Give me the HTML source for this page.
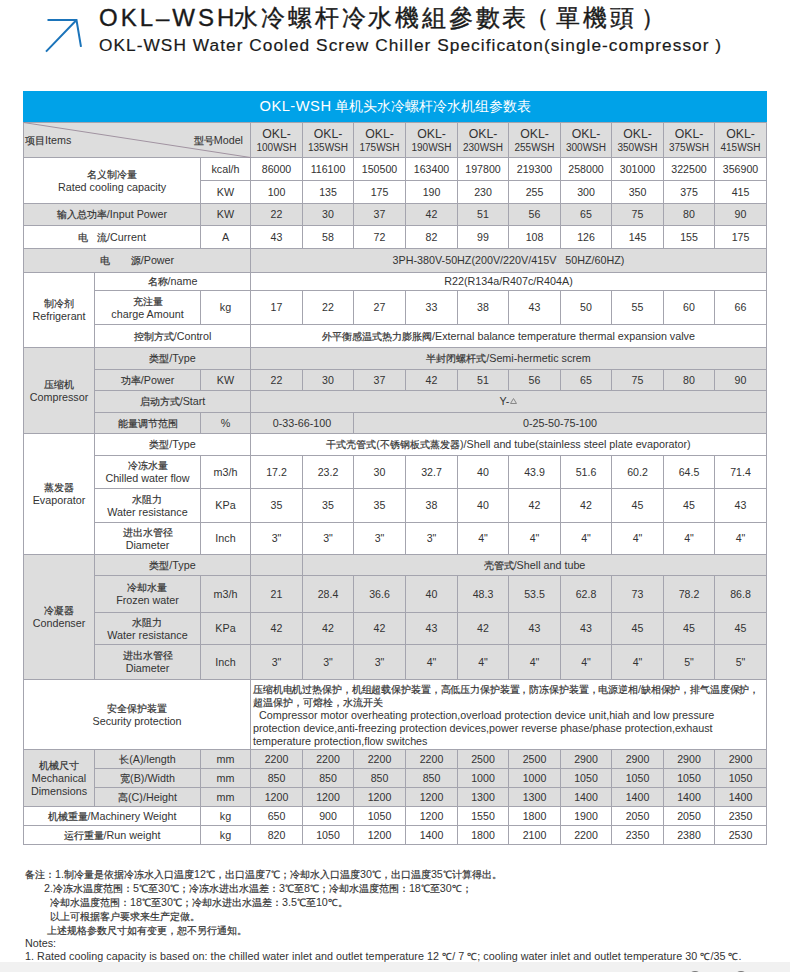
<!DOCTYPE html>
<html><head><meta charset="utf-8">
<style>
html,body{margin:0;padding:0;}
body{width:790px;height:972px;position:relative;overflow:hidden;background:#fff;font-family:"Liberation Sans",sans-serif;color:#333333;}
.c{position:absolute;box-sizing:border-box;border:1px solid #a4a4ae;display:flex;align-items:center;justify-content:center;text-align:center;font-size:10.75px;line-height:13px;white-space:nowrap;}
.k{font-size:9.8px;-webkit-text-stroke:0.2px #333333;}
.d{font-size:10.6px;}
.hd{line-height:13px;padding-top:1px;}
.okl{font-size:12.3px;display:block;}
.mdl{font-size:10px;display:block;}
.tri{font-size:7px;}
.secc{align-items:flex-start;justify-content:flex-start;}
.sec{position:absolute;left:2px;top:3px;text-align:left;line-height:13px;}
.l1{letter-spacing:-0.13px;}
.title1{position:absolute;left:99px;top:3px;font-size:24px;line-height:30px;color:#1a1a1a;letter-spacing:3px;white-space:nowrap;-webkit-text-stroke:0.35px #1a1a1a;}
.tk{letter-spacing:2.8px;margin-left:-3px;}
.title2{position:absolute;left:99px;top:34px;font-size:17.3px;line-height:22px;color:#1a1a1a;letter-spacing:1.04px;white-space:nowrap;-webkit-text-stroke:0.2px #1a1a1a;}
.bar{position:absolute;left:23px;top:91px;width:744px;height:31px;background:#00a2e8;color:#fff;font-size:14.7px;line-height:31px;text-align:center;white-space:nowrap;letter-spacing:0.5px;}
.bk{font-size:14px;letter-spacing:0;margin-left:3px;}
.notes{position:absolute;font-size:10.75px;line-height:13px;white-space:nowrap;}
.band{position:absolute;left:0;top:962px;width:790px;height:10px;background:#f1f1f1;}
</style></head><body>
<svg style="position:absolute;left:0;top:0" width="100" height="60"><path d="M47.5 20 H76.5 L81 46.8 M76.5 20 L46 51.6" fill="none" stroke="#1b74ba" stroke-width="2"/></svg>
<div class="title1">OKL–WSH<span class="tk">水冷螺杆冷水機組參數表<span style="margin-left:-4px;margin-right:4px">（</span>單機頭<span style="margin-left:5px">）</span></span></div>
<div class="title2">OKL-WSH Water Cooled Screw Chiller Specificaton(single-compressor )</div>
<div class="bar">OKL-WSH<span class="bk">单机头水冷螺杆冷水机组参数表</span></div>
<div class="c " style="left:23px;top:122px;width:228px;height:36px;background:#dddddd;"><div></div></div>
<div class="c hd" style="left:250px;top:122px;width:53px;height:36px;background:#dddddd;"><div><span class="okl">OKL-</span><span class="mdl">100WSH</span></div></div>
<div class="c hd" style="left:302px;top:122px;width:52px;height:36px;background:#dddddd;"><div><span class="okl">OKL-</span><span class="mdl">135WSH</span></div></div>
<div class="c hd" style="left:353px;top:122px;width:53px;height:36px;background:#dddddd;"><div><span class="okl">OKL-</span><span class="mdl">175WSH</span></div></div>
<div class="c hd" style="left:405px;top:122px;width:53px;height:36px;background:#dddddd;"><div><span class="okl">OKL-</span><span class="mdl">190WSH</span></div></div>
<div class="c hd" style="left:457px;top:122px;width:52px;height:36px;background:#dddddd;"><div><span class="okl">OKL-</span><span class="mdl">230WSH</span></div></div>
<div class="c hd" style="left:508px;top:122px;width:53px;height:36px;background:#dddddd;"><div><span class="okl">OKL-</span><span class="mdl">255WSH</span></div></div>
<div class="c hd" style="left:560px;top:122px;width:52px;height:36px;background:#dddddd;"><div><span class="okl">OKL-</span><span class="mdl">300WSH</span></div></div>
<div class="c hd" style="left:611px;top:122px;width:53px;height:36px;background:#dddddd;"><div><span class="okl">OKL-</span><span class="mdl">350WSH</span></div></div>
<div class="c hd" style="left:663px;top:122px;width:52px;height:36px;background:#dddddd;"><div><span class="okl">OKL-</span><span class="mdl">375WSH</span></div></div>
<div class="c hd" style="left:714px;top:122px;width:53px;height:36px;background:#dddddd;"><div><span class="okl">OKL-</span><span class="mdl">415WSH</span></div></div>
<div class="c " style="left:23px;top:157px;width:178px;height:47px;background:#ffffff;"><div><span class="k">名义制冷量</span><br>Rated cooling capacity</div></div>
<div class="c " style="left:200px;top:157px;width:51px;height:24px;background:#ffffff;"><div>kcal/h</div></div>
<div class="c " style="left:200px;top:180px;width:51px;height:24px;background:#ffffff;"><div>KW</div></div>
<div class="c d" style="left:250px;top:157px;width:53px;height:24px;background:#ffffff;"><div>86000</div></div>
<div class="c d" style="left:302px;top:157px;width:52px;height:24px;background:#ffffff;"><div>116100</div></div>
<div class="c d" style="left:353px;top:157px;width:53px;height:24px;background:#ffffff;"><div>150500</div></div>
<div class="c d" style="left:405px;top:157px;width:53px;height:24px;background:#ffffff;"><div>163400</div></div>
<div class="c d" style="left:457px;top:157px;width:52px;height:24px;background:#ffffff;"><div>197800</div></div>
<div class="c d" style="left:508px;top:157px;width:53px;height:24px;background:#ffffff;"><div>219300</div></div>
<div class="c d" style="left:560px;top:157px;width:52px;height:24px;background:#ffffff;"><div>258000</div></div>
<div class="c d" style="left:611px;top:157px;width:53px;height:24px;background:#ffffff;"><div>301000</div></div>
<div class="c d" style="left:663px;top:157px;width:52px;height:24px;background:#ffffff;"><div>322500</div></div>
<div class="c d" style="left:714px;top:157px;width:53px;height:24px;background:#ffffff;"><div>356900</div></div>
<div class="c d" style="left:250px;top:180px;width:53px;height:24px;background:#ffffff;"><div>100</div></div>
<div class="c d" style="left:302px;top:180px;width:52px;height:24px;background:#ffffff;"><div>135</div></div>
<div class="c d" style="left:353px;top:180px;width:53px;height:24px;background:#ffffff;"><div>175</div></div>
<div class="c d" style="left:405px;top:180px;width:53px;height:24px;background:#ffffff;"><div>190</div></div>
<div class="c d" style="left:457px;top:180px;width:52px;height:24px;background:#ffffff;"><div>230</div></div>
<div class="c d" style="left:508px;top:180px;width:53px;height:24px;background:#ffffff;"><div>255</div></div>
<div class="c d" style="left:560px;top:180px;width:52px;height:24px;background:#ffffff;"><div>300</div></div>
<div class="c d" style="left:611px;top:180px;width:53px;height:24px;background:#ffffff;"><div>350</div></div>
<div class="c d" style="left:663px;top:180px;width:52px;height:24px;background:#ffffff;"><div>375</div></div>
<div class="c d" style="left:714px;top:180px;width:53px;height:24px;background:#ffffff;"><div>415</div></div>
<div class="c " style="left:23px;top:203px;width:178px;height:23px;background:#dddddd;"><div><span class="k">输入总功率</span>/Input Power</div></div>
<div class="c " style="left:200px;top:203px;width:51px;height:23px;background:#dddddd;"><div>KW</div></div>
<div class="c d" style="left:250px;top:203px;width:53px;height:23px;background:#dddddd;"><div>22</div></div>
<div class="c d" style="left:302px;top:203px;width:52px;height:23px;background:#dddddd;"><div>30</div></div>
<div class="c d" style="left:353px;top:203px;width:53px;height:23px;background:#dddddd;"><div>37</div></div>
<div class="c d" style="left:405px;top:203px;width:53px;height:23px;background:#dddddd;"><div>42</div></div>
<div class="c d" style="left:457px;top:203px;width:52px;height:23px;background:#dddddd;"><div>51</div></div>
<div class="c d" style="left:508px;top:203px;width:53px;height:23px;background:#dddddd;"><div>56</div></div>
<div class="c d" style="left:560px;top:203px;width:52px;height:23px;background:#dddddd;"><div>65</div></div>
<div class="c d" style="left:611px;top:203px;width:53px;height:23px;background:#dddddd;"><div>75</div></div>
<div class="c d" style="left:663px;top:203px;width:52px;height:23px;background:#dddddd;"><div>80</div></div>
<div class="c d" style="left:714px;top:203px;width:53px;height:23px;background:#dddddd;"><div>90</div></div>
<div class="c " style="left:23px;top:225px;width:178px;height:24px;background:#ffffff;"><div><span class="k">电</span>&nbsp;&nbsp;&nbsp;<span class="k">流</span>/Current</div></div>
<div class="c " style="left:200px;top:225px;width:51px;height:24px;background:#ffffff;"><div>A</div></div>
<div class="c d" style="left:250px;top:225px;width:53px;height:24px;background:#ffffff;"><div>43</div></div>
<div class="c d" style="left:302px;top:225px;width:52px;height:24px;background:#ffffff;"><div>58</div></div>
<div class="c d" style="left:353px;top:225px;width:53px;height:24px;background:#ffffff;"><div>72</div></div>
<div class="c d" style="left:405px;top:225px;width:53px;height:24px;background:#ffffff;"><div>82</div></div>
<div class="c d" style="left:457px;top:225px;width:52px;height:24px;background:#ffffff;"><div>99</div></div>
<div class="c d" style="left:508px;top:225px;width:53px;height:24px;background:#ffffff;"><div>108</div></div>
<div class="c d" style="left:560px;top:225px;width:52px;height:24px;background:#ffffff;"><div>126</div></div>
<div class="c d" style="left:611px;top:225px;width:53px;height:24px;background:#ffffff;"><div>145</div></div>
<div class="c d" style="left:663px;top:225px;width:52px;height:24px;background:#ffffff;"><div>155</div></div>
<div class="c d" style="left:714px;top:225px;width:53px;height:24px;background:#ffffff;"><div>175</div></div>
<div class="c " style="left:23px;top:248px;width:228px;height:25px;background:#dddddd;"><div><span class="k">电</span>&nbsp;&nbsp;&nbsp;&nbsp;&nbsp;&nbsp;&nbsp;<span class="k">源</span>/Power</div></div>
<div class="c " style="left:250px;top:248px;width:517px;height:25px;background:#dddddd;"><div>3PH-380V-50HZ(200V/220V/415V&nbsp;&nbsp;&nbsp;50HZ/60HZ)</div></div>
<div class="c " style="left:23px;top:272px;width:72px;height:76px;background:#ffffff;"><div><span class="k">制冷剂</span><br>Refrigerant</div></div>
<div class="c " style="left:94px;top:272px;width:157px;height:19px;background:#ffffff;"><div><span class="k">名称</span>/name</div></div>
<div class="c " style="left:250px;top:272px;width:517px;height:19px;background:#ffffff;"><div>R22(R134a/R407c/R404A)</div></div>
<div class="c " style="left:94px;top:290px;width:107px;height:35px;background:#ffffff;"><div><span class="k">充注量</span><br>charge Amount</div></div>
<div class="c " style="left:200px;top:290px;width:51px;height:35px;background:#ffffff;"><div>kg</div></div>
<div class="c d" style="left:250px;top:290px;width:53px;height:35px;background:#ffffff;"><div>17</div></div>
<div class="c d" style="left:302px;top:290px;width:52px;height:35px;background:#ffffff;"><div>22</div></div>
<div class="c d" style="left:353px;top:290px;width:53px;height:35px;background:#ffffff;"><div>27</div></div>
<div class="c d" style="left:405px;top:290px;width:53px;height:35px;background:#ffffff;"><div>33</div></div>
<div class="c d" style="left:457px;top:290px;width:52px;height:35px;background:#ffffff;"><div>38</div></div>
<div class="c d" style="left:508px;top:290px;width:53px;height:35px;background:#ffffff;"><div>43</div></div>
<div class="c d" style="left:560px;top:290px;width:52px;height:35px;background:#ffffff;"><div>50</div></div>
<div class="c d" style="left:611px;top:290px;width:53px;height:35px;background:#ffffff;"><div>55</div></div>
<div class="c d" style="left:663px;top:290px;width:52px;height:35px;background:#ffffff;"><div>60</div></div>
<div class="c d" style="left:714px;top:290px;width:53px;height:35px;background:#ffffff;"><div>66</div></div>
<div class="c " style="left:94px;top:324px;width:157px;height:24px;background:#ffffff;"><div><span class="k">控制方式</span>/Control</div></div>
<div class="c " style="left:250px;top:324px;width:517px;height:24px;background:#ffffff;"><div><span class="k">外平衡感温式热力膨胀阀</span>/External balance temperature thermal expansion valve</div></div>
<div class="c " style="left:23px;top:347px;width:72px;height:87px;background:#dddddd;"><div><span class="k">压缩机</span><br>Compressor</div></div>
<div class="c " style="left:94px;top:347px;width:157px;height:23px;background:#dddddd;"><div><span class="k">类型</span>/Type</div></div>
<div class="c " style="left:250px;top:347px;width:517px;height:23px;background:#dddddd;"><div><span class="k">半封闭螺杆式</span>/Semi-hermetic screm</div></div>
<div class="c " style="left:94px;top:369px;width:107px;height:22px;background:#dddddd;"><div><span class="k">功率</span>/Power</div></div>
<div class="c " style="left:200px;top:369px;width:51px;height:22px;background:#dddddd;"><div>KW</div></div>
<div class="c d" style="left:250px;top:369px;width:53px;height:22px;background:#dddddd;"><div>22</div></div>
<div class="c d" style="left:302px;top:369px;width:52px;height:22px;background:#dddddd;"><div>30</div></div>
<div class="c d" style="left:353px;top:369px;width:53px;height:22px;background:#dddddd;"><div>37</div></div>
<div class="c d" style="left:405px;top:369px;width:53px;height:22px;background:#dddddd;"><div>42</div></div>
<div class="c d" style="left:457px;top:369px;width:52px;height:22px;background:#dddddd;"><div>51</div></div>
<div class="c d" style="left:508px;top:369px;width:53px;height:22px;background:#dddddd;"><div>56</div></div>
<div class="c d" style="left:560px;top:369px;width:52px;height:22px;background:#dddddd;"><div>65</div></div>
<div class="c d" style="left:611px;top:369px;width:53px;height:22px;background:#dddddd;"><div>75</div></div>
<div class="c d" style="left:663px;top:369px;width:52px;height:22px;background:#dddddd;"><div>80</div></div>
<div class="c d" style="left:714px;top:369px;width:53px;height:22px;background:#dddddd;"><div>90</div></div>
<div class="c " style="left:94px;top:390px;width:157px;height:23px;background:#dddddd;"><div><span class="k">启动方式</span>/Start</div></div>
<div class="c " style="left:250px;top:390px;width:517px;height:23px;background:#dddddd;"><div>Y-<svg width="7" height="6" style="margin-left:1px;vertical-align:1px"><path d="M3.5 0.5 L6.5 5.5 H0.5 Z" fill="none" stroke="#888" stroke-width="1"/></svg></div></div>
<div class="c " style="left:94px;top:412px;width:107px;height:22px;background:#dddddd;"><div><span class="k">能量调节范围</span></div></div>
<div class="c " style="left:200px;top:412px;width:51px;height:22px;background:#dddddd;"><div>%</div></div>
<div class="c " style="left:250px;top:412px;width:104px;height:22px;background:#dddddd;"><div>0-33-66-100</div></div>
<div class="c " style="left:353px;top:412px;width:414px;height:22px;background:#dddddd;"><div>0-25-50-75-100</div></div>
<div class="c " style="left:23px;top:433px;width:72px;height:122px;background:#ffffff;"><div><span class="k">蒸发器</span><br>Evaporator</div></div>
<div class="c " style="left:94px;top:433px;width:157px;height:23px;background:#ffffff;"><div><span class="k">类型</span>/Type</div></div>
<div class="c " style="left:250px;top:433px;width:517px;height:23px;background:#ffffff;"><div><span class="k">干式壳管式</span>(<span class="k">不锈钢板式蒸发器</span>)/Shell and tube(stainless steel plate evaporator)</div></div>
<div class="c " style="left:94px;top:455px;width:107px;height:34px;background:#ffffff;"><div><span class="k">冷冻水量</span><br>Chilled water flow</div></div>
<div class="c " style="left:200px;top:455px;width:51px;height:34px;background:#ffffff;"><div>m3/h</div></div>
<div class="c d" style="left:250px;top:455px;width:53px;height:34px;background:#ffffff;"><div>17.2</div></div>
<div class="c d" style="left:302px;top:455px;width:52px;height:34px;background:#ffffff;"><div>23.2</div></div>
<div class="c d" style="left:353px;top:455px;width:53px;height:34px;background:#ffffff;"><div>30</div></div>
<div class="c d" style="left:405px;top:455px;width:53px;height:34px;background:#ffffff;"><div>32.7</div></div>
<div class="c d" style="left:457px;top:455px;width:52px;height:34px;background:#ffffff;"><div>40</div></div>
<div class="c d" style="left:508px;top:455px;width:53px;height:34px;background:#ffffff;"><div>43.9</div></div>
<div class="c d" style="left:560px;top:455px;width:52px;height:34px;background:#ffffff;"><div>51.6</div></div>
<div class="c d" style="left:611px;top:455px;width:53px;height:34px;background:#ffffff;"><div>60.2</div></div>
<div class="c d" style="left:663px;top:455px;width:52px;height:34px;background:#ffffff;"><div>64.5</div></div>
<div class="c d" style="left:714px;top:455px;width:53px;height:34px;background:#ffffff;"><div>71.4</div></div>
<div class="c " style="left:94px;top:488px;width:107px;height:35px;background:#ffffff;"><div><span class="k">水阻力</span><br>Water resistance</div></div>
<div class="c " style="left:200px;top:488px;width:51px;height:35px;background:#ffffff;"><div>KPa</div></div>
<div class="c d" style="left:250px;top:488px;width:53px;height:35px;background:#ffffff;"><div>35</div></div>
<div class="c d" style="left:302px;top:488px;width:52px;height:35px;background:#ffffff;"><div>35</div></div>
<div class="c d" style="left:353px;top:488px;width:53px;height:35px;background:#ffffff;"><div>35</div></div>
<div class="c d" style="left:405px;top:488px;width:53px;height:35px;background:#ffffff;"><div>38</div></div>
<div class="c d" style="left:457px;top:488px;width:52px;height:35px;background:#ffffff;"><div>40</div></div>
<div class="c d" style="left:508px;top:488px;width:53px;height:35px;background:#ffffff;"><div>42</div></div>
<div class="c d" style="left:560px;top:488px;width:52px;height:35px;background:#ffffff;"><div>42</div></div>
<div class="c d" style="left:611px;top:488px;width:53px;height:35px;background:#ffffff;"><div>45</div></div>
<div class="c d" style="left:663px;top:488px;width:52px;height:35px;background:#ffffff;"><div>45</div></div>
<div class="c d" style="left:714px;top:488px;width:53px;height:35px;background:#ffffff;"><div>43</div></div>
<div class="c " style="left:94px;top:522px;width:107px;height:33px;background:#ffffff;"><div><span class="k">进出水管径</span><br>Diameter</div></div>
<div class="c " style="left:200px;top:522px;width:51px;height:33px;background:#ffffff;"><div>Inch</div></div>
<div class="c d" style="left:250px;top:522px;width:53px;height:33px;background:#ffffff;"><div>3"</div></div>
<div class="c d" style="left:302px;top:522px;width:52px;height:33px;background:#ffffff;"><div>3"</div></div>
<div class="c d" style="left:353px;top:522px;width:53px;height:33px;background:#ffffff;"><div>3"</div></div>
<div class="c d" style="left:405px;top:522px;width:53px;height:33px;background:#ffffff;"><div>3"</div></div>
<div class="c d" style="left:457px;top:522px;width:52px;height:33px;background:#ffffff;"><div>4"</div></div>
<div class="c d" style="left:508px;top:522px;width:53px;height:33px;background:#ffffff;"><div>4"</div></div>
<div class="c d" style="left:560px;top:522px;width:52px;height:33px;background:#ffffff;"><div>4"</div></div>
<div class="c d" style="left:611px;top:522px;width:53px;height:33px;background:#ffffff;"><div>4"</div></div>
<div class="c d" style="left:663px;top:522px;width:52px;height:33px;background:#ffffff;"><div>4"</div></div>
<div class="c d" style="left:714px;top:522px;width:53px;height:33px;background:#ffffff;"><div>4"</div></div>
<div class="c " style="left:23px;top:554px;width:72px;height:126px;background:#dddddd;"><div><span class="k">冷凝器</span><br>Condenser</div></div>
<div class="c " style="left:94px;top:554px;width:157px;height:22px;background:#dddddd;"><div><span class="k">类型</span>/Type</div></div>
<div class="c " style="left:250px;top:554px;width:53px;height:22px;background:#dddddd;"><div></div></div>
<div class="c " style="left:302px;top:554px;width:465px;height:22px;background:#dddddd;"><div><span class="k">壳管式</span>/Shell and tube</div></div>
<div class="c " style="left:94px;top:575px;width:107px;height:38px;background:#dddddd;"><div><span class="k">冷却水量</span><br>Frozen water</div></div>
<div class="c " style="left:200px;top:575px;width:51px;height:38px;background:#dddddd;"><div>m3/h</div></div>
<div class="c d" style="left:250px;top:575px;width:53px;height:38px;background:#dddddd;"><div>21</div></div>
<div class="c d" style="left:302px;top:575px;width:52px;height:38px;background:#dddddd;"><div>28.4</div></div>
<div class="c d" style="left:353px;top:575px;width:53px;height:38px;background:#dddddd;"><div>36.6</div></div>
<div class="c d" style="left:405px;top:575px;width:53px;height:38px;background:#dddddd;"><div>40</div></div>
<div class="c d" style="left:457px;top:575px;width:52px;height:38px;background:#dddddd;"><div>48.3</div></div>
<div class="c d" style="left:508px;top:575px;width:53px;height:38px;background:#dddddd;"><div>53.5</div></div>
<div class="c d" style="left:560px;top:575px;width:52px;height:38px;background:#dddddd;"><div>62.8</div></div>
<div class="c d" style="left:611px;top:575px;width:53px;height:38px;background:#dddddd;"><div>73</div></div>
<div class="c d" style="left:663px;top:575px;width:52px;height:38px;background:#dddddd;"><div>78.2</div></div>
<div class="c d" style="left:714px;top:575px;width:53px;height:38px;background:#dddddd;"><div>86.8</div></div>
<div class="c " style="left:94px;top:612px;width:107px;height:33px;background:#dddddd;"><div><span class="k">水阻力</span><br>Water resistance</div></div>
<div class="c " style="left:200px;top:612px;width:51px;height:33px;background:#dddddd;"><div>KPa</div></div>
<div class="c d" style="left:250px;top:612px;width:53px;height:33px;background:#dddddd;"><div>42</div></div>
<div class="c d" style="left:302px;top:612px;width:52px;height:33px;background:#dddddd;"><div>42</div></div>
<div class="c d" style="left:353px;top:612px;width:53px;height:33px;background:#dddddd;"><div>42</div></div>
<div class="c d" style="left:405px;top:612px;width:53px;height:33px;background:#dddddd;"><div>43</div></div>
<div class="c d" style="left:457px;top:612px;width:52px;height:33px;background:#dddddd;"><div>42</div></div>
<div class="c d" style="left:508px;top:612px;width:53px;height:33px;background:#dddddd;"><div>43</div></div>
<div class="c d" style="left:560px;top:612px;width:52px;height:33px;background:#dddddd;"><div>43</div></div>
<div class="c d" style="left:611px;top:612px;width:53px;height:33px;background:#dddddd;"><div>45</div></div>
<div class="c d" style="left:663px;top:612px;width:52px;height:33px;background:#dddddd;"><div>45</div></div>
<div class="c d" style="left:714px;top:612px;width:53px;height:33px;background:#dddddd;"><div>45</div></div>
<div class="c " style="left:94px;top:644px;width:107px;height:36px;background:#dddddd;"><div><span class="k">进出水管径</span><br>Diameter</div></div>
<div class="c " style="left:200px;top:644px;width:51px;height:36px;background:#dddddd;"><div>Inch</div></div>
<div class="c d" style="left:250px;top:644px;width:53px;height:36px;background:#dddddd;"><div>3"</div></div>
<div class="c d" style="left:302px;top:644px;width:52px;height:36px;background:#dddddd;"><div>3"</div></div>
<div class="c d" style="left:353px;top:644px;width:53px;height:36px;background:#dddddd;"><div>3"</div></div>
<div class="c d" style="left:405px;top:644px;width:53px;height:36px;background:#dddddd;"><div>4"</div></div>
<div class="c d" style="left:457px;top:644px;width:52px;height:36px;background:#dddddd;"><div>4"</div></div>
<div class="c d" style="left:508px;top:644px;width:53px;height:36px;background:#dddddd;"><div>4"</div></div>
<div class="c d" style="left:560px;top:644px;width:52px;height:36px;background:#dddddd;"><div>4"</div></div>
<div class="c d" style="left:611px;top:644px;width:53px;height:36px;background:#dddddd;"><div>4"</div></div>
<div class="c d" style="left:663px;top:644px;width:52px;height:36px;background:#dddddd;"><div>5"</div></div>
<div class="c d" style="left:714px;top:644px;width:53px;height:36px;background:#dddddd;"><div>5"</div></div>
<div class="c " style="left:23px;top:679px;width:228px;height:71px;background:#ffffff;"><div><span class="k">安全保护装置</span><br>Security protection</div></div>
<div class="c secc" style="left:250px;top:679px;width:517px;height:71px;background:#ffffff;"><div><div class="sec"><div class="l1"><span class="k">压缩机电机过热保护，机组超载保护装置，高低压力保护装置，防冻保护装置，电源逆相</span>/<span class="k">缺相保护，排气温度保护，</span></div><div class="l2"><span class="k">超温保护，可熔栓，水流开关</span></div><div class="l3">&nbsp;&nbsp;Compressor motor overheating protection,overload protection device unit,hiah and low pressure</div><div class="l4">protection device,anti-freezing protection devices,power reverse phase/phase protection,exhaust</div><div class="l5">temperature protection,flow switches</div></div></div></div>
<div class="c mech" style="left:23px;top:749px;width:72px;height:58px;background:#dddddd;"><div><span class="k">机械尺寸</span><br>Mechanical<br>Dimensions</div></div>
<div class="c " style="left:94px;top:749px;width:107px;height:20px;background:#dddddd;"><div><span class="k">长</span>(A)/length</div></div>
<div class="c " style="left:200px;top:749px;width:51px;height:20px;background:#dddddd;"><div>mm</div></div>
<div class="c d" style="left:250px;top:749px;width:53px;height:20px;background:#dddddd;"><div>2200</div></div>
<div class="c d" style="left:302px;top:749px;width:52px;height:20px;background:#dddddd;"><div>2200</div></div>
<div class="c d" style="left:353px;top:749px;width:53px;height:20px;background:#dddddd;"><div>2200</div></div>
<div class="c d" style="left:405px;top:749px;width:53px;height:20px;background:#dddddd;"><div>2200</div></div>
<div class="c d" style="left:457px;top:749px;width:52px;height:20px;background:#dddddd;"><div>2500</div></div>
<div class="c d" style="left:508px;top:749px;width:53px;height:20px;background:#dddddd;"><div>2500</div></div>
<div class="c d" style="left:560px;top:749px;width:52px;height:20px;background:#dddddd;"><div>2900</div></div>
<div class="c d" style="left:611px;top:749px;width:53px;height:20px;background:#dddddd;"><div>2900</div></div>
<div class="c d" style="left:663px;top:749px;width:52px;height:20px;background:#dddddd;"><div>2900</div></div>
<div class="c d" style="left:714px;top:749px;width:53px;height:20px;background:#dddddd;"><div>2900</div></div>
<div class="c " style="left:94px;top:768px;width:107px;height:20px;background:#dddddd;"><div><span class="k">宽</span>(B)/Width</div></div>
<div class="c " style="left:200px;top:768px;width:51px;height:20px;background:#dddddd;"><div>mm</div></div>
<div class="c d" style="left:250px;top:768px;width:53px;height:20px;background:#dddddd;"><div>850</div></div>
<div class="c d" style="left:302px;top:768px;width:52px;height:20px;background:#dddddd;"><div>850</div></div>
<div class="c d" style="left:353px;top:768px;width:53px;height:20px;background:#dddddd;"><div>850</div></div>
<div class="c d" style="left:405px;top:768px;width:53px;height:20px;background:#dddddd;"><div>850</div></div>
<div class="c d" style="left:457px;top:768px;width:52px;height:20px;background:#dddddd;"><div>1000</div></div>
<div class="c d" style="left:508px;top:768px;width:53px;height:20px;background:#dddddd;"><div>1000</div></div>
<div class="c d" style="left:560px;top:768px;width:52px;height:20px;background:#dddddd;"><div>1050</div></div>
<div class="c d" style="left:611px;top:768px;width:53px;height:20px;background:#dddddd;"><div>1050</div></div>
<div class="c d" style="left:663px;top:768px;width:52px;height:20px;background:#dddddd;"><div>1050</div></div>
<div class="c d" style="left:714px;top:768px;width:53px;height:20px;background:#dddddd;"><div>1050</div></div>
<div class="c " style="left:94px;top:787px;width:107px;height:20px;background:#dddddd;"><div><span class="k">高</span>(C)/Height</div></div>
<div class="c " style="left:200px;top:787px;width:51px;height:20px;background:#dddddd;"><div>mm</div></div>
<div class="c d" style="left:250px;top:787px;width:53px;height:20px;background:#dddddd;"><div>1200</div></div>
<div class="c d" style="left:302px;top:787px;width:52px;height:20px;background:#dddddd;"><div>1200</div></div>
<div class="c d" style="left:353px;top:787px;width:53px;height:20px;background:#dddddd;"><div>1200</div></div>
<div class="c d" style="left:405px;top:787px;width:53px;height:20px;background:#dddddd;"><div>1200</div></div>
<div class="c d" style="left:457px;top:787px;width:52px;height:20px;background:#dddddd;"><div>1300</div></div>
<div class="c d" style="left:508px;top:787px;width:53px;height:20px;background:#dddddd;"><div>1300</div></div>
<div class="c d" style="left:560px;top:787px;width:52px;height:20px;background:#dddddd;"><div>1400</div></div>
<div class="c d" style="left:611px;top:787px;width:53px;height:20px;background:#dddddd;"><div>1400</div></div>
<div class="c d" style="left:663px;top:787px;width:52px;height:20px;background:#dddddd;"><div>1400</div></div>
<div class="c d" style="left:714px;top:787px;width:53px;height:20px;background:#dddddd;"><div>1400</div></div>
<div class="c " style="left:23px;top:806px;width:178px;height:20px;background:#ffffff;"><div><span class="k">机械重量</span>/Machinery Weight</div></div>
<div class="c " style="left:200px;top:806px;width:51px;height:20px;background:#ffffff;"><div>kg</div></div>
<div class="c d" style="left:250px;top:806px;width:53px;height:20px;background:#ffffff;"><div>650</div></div>
<div class="c d" style="left:302px;top:806px;width:52px;height:20px;background:#ffffff;"><div>900</div></div>
<div class="c d" style="left:353px;top:806px;width:53px;height:20px;background:#ffffff;"><div>1050</div></div>
<div class="c d" style="left:405px;top:806px;width:53px;height:20px;background:#ffffff;"><div>1200</div></div>
<div class="c d" style="left:457px;top:806px;width:52px;height:20px;background:#ffffff;"><div>1550</div></div>
<div class="c d" style="left:508px;top:806px;width:53px;height:20px;background:#ffffff;"><div>1800</div></div>
<div class="c d" style="left:560px;top:806px;width:52px;height:20px;background:#ffffff;"><div>1900</div></div>
<div class="c d" style="left:611px;top:806px;width:53px;height:20px;background:#ffffff;"><div>2050</div></div>
<div class="c d" style="left:663px;top:806px;width:52px;height:20px;background:#ffffff;"><div>2050</div></div>
<div class="c d" style="left:714px;top:806px;width:53px;height:20px;background:#ffffff;"><div>2350</div></div>
<div class="c " style="left:23px;top:825px;width:178px;height:20px;background:#ffffff;"><div><span class="k">运行重量</span>/Run weight</div></div>
<div class="c " style="left:200px;top:825px;width:51px;height:20px;background:#ffffff;"><div>kg</div></div>
<div class="c d" style="left:250px;top:825px;width:53px;height:20px;background:#ffffff;"><div>820</div></div>
<div class="c d" style="left:302px;top:825px;width:52px;height:20px;background:#ffffff;"><div>1050</div></div>
<div class="c d" style="left:353px;top:825px;width:53px;height:20px;background:#ffffff;"><div>1200</div></div>
<div class="c d" style="left:405px;top:825px;width:53px;height:20px;background:#ffffff;"><div>1400</div></div>
<div class="c d" style="left:457px;top:825px;width:52px;height:20px;background:#ffffff;"><div>1800</div></div>
<div class="c d" style="left:508px;top:825px;width:53px;height:20px;background:#ffffff;"><div>2100</div></div>
<div class="c d" style="left:560px;top:825px;width:52px;height:20px;background:#ffffff;"><div>2200</div></div>
<div class="c d" style="left:611px;top:825px;width:53px;height:20px;background:#ffffff;"><div>2350</div></div>
<div class="c d" style="left:663px;top:825px;width:52px;height:20px;background:#ffffff;"><div>2380</div></div>
<div class="c d" style="left:714px;top:825px;width:53px;height:20px;background:#ffffff;"><div>2530</div></div>
<svg style="position:absolute;left:0;top:0" width="790" height="200"><line x1="23.5" y1="122.5" x2="250.5" y2="157.5" stroke="#9a8a9a" stroke-width="0.9"/></svg>
<div class="c" style="left:24px;top:123px;border:none;background:transparent;justify-content:flex-start;width:200px;height:34px;padding-left:1px"><div><span class="k">项目</span>Items</div></div>
<div class="c" style="left:118px;top:123px;border:none;background:transparent;justify-content:flex-end;width:125px;height:34px;"><div><span class="k">型号</span>Model</div></div>
<div class="notes" style="left:25px;top:868px"><span class="k">备注：</span>1.<span class="k">制冷量是依据冷冻水入口温度</span>12<span class="k">℃，出口温度</span>7<span class="k">℃；冷却水入口温度</span>30<span class="k">℃，出口温度</span>35<span class="k">℃计算得出。</span></div>
<div class="notes" style="left:44px;top:882px">2.<span class="k">冷冻水温度范围：</span>5<span class="k">℃至</span>30<span class="k">℃；冷冻水进出水温差：</span>3<span class="k">℃至</span>8<span class="k">℃；冷却水温度范围：</span>18<span class="k">℃至</span>30<span class="k">℃；</span></div>
<div class="notes" style="left:50px;top:896px"><span class="k">冷却水温度范围：</span>18<span class="k">℃至</span>30<span class="k">℃；冷却水进出水温差：</span>3.5<span class="k">℃至</span>10<span class="k">℃。</span></div>
<div class="notes" style="left:50px;top:910px"><span class="k">以上可根据客户要求来生产定做。</span></div>
<div class="notes" style="left:47px;top:924px"><span class="k">上述规格参数尺寸如有变更，恕不另行通知。</span></div>
<div class="notes" style="left:25px;top:937px">Notes:</div>
<div class="notes" style="left:25px;top:950px;letter-spacing:0.04px">1. Rated cooling capacity is based on: the chilled water inlet and outlet temperature 12 <span class="k">℃</span>/ 7 <span class="k">℃</span>; cooling water inlet and outlet temperature 30 <span class="k">℃</span>/35 <span class="k">℃</span>.</div>
<div class="band"></div>
<div style="position:absolute;left:688px;top:971px;width:14px;height:14px;border-radius:50%;background:#777"></div>
<div style="position:absolute;left:734px;top:971px;width:14px;height:14px;border-radius:50%;background:#777"></div>
</body></html>
